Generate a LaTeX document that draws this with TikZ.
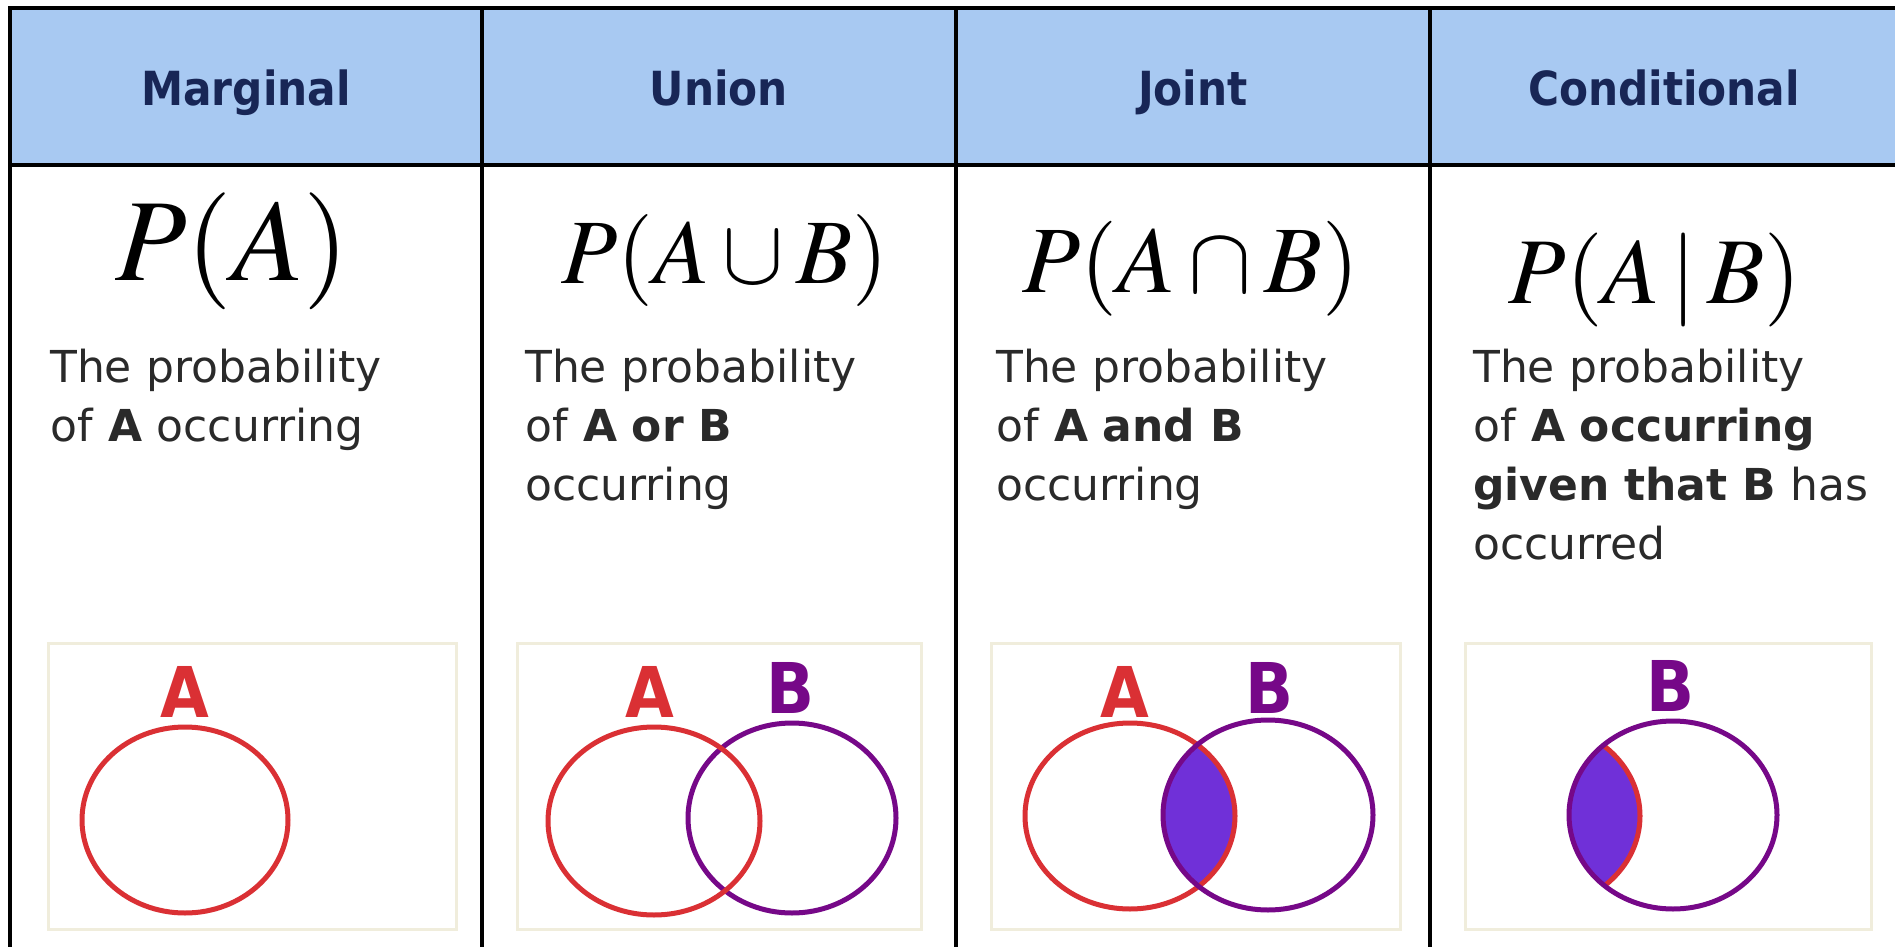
\RequirePackage{fix-cm}
\documentclass[tikz,border=0pt]{standalone}
\usepackage{mathptmx}
\usepackage{fontspec}
\setmainfont{DejaVu Sans}
\newfontfamily\condfont{DejaVu Sans Condensed}
\usetikzlibrary{positioning}

\definecolor{hdrblue}{RGB}{168,201,242}
\definecolor{hdrtext}{RGB}{24,38,86}
\definecolor{bodytext}{RGB}{42,42,42}
\definecolor{setred}{RGB}{218,48,52}
\definecolor{setpurple}{RGB}{118,8,136}
\definecolor{lensfill}{RGB}{112,48,216}
\definecolor{boxline}{RGB}{240,237,220}

\tikzset{
    tblline/.style={line width=4.5pt, black},
    hdr/.style={font=\condfont\bfseries\fontsize{47}{47}\selectfont, text=hdrtext, anchor=base, inner sep=0pt},
    formula/.style={anchor=base, inner sep=0pt},
    desc/.style={font=\fontsize{44}{59}\selectfont, text=bodytext, anchor=base west,
        text width=430pt, align=left, inner sep=0pt},
    vennbox/.style={draw=boxline, line width=3pt},
    setA/.style={draw=setred, line width=5pt},
    setB/.style={draw=setpurple, line width=5pt},
    setlabel/.style={font=\condfont\bfseries\fontsize{70}{70}\selectfont, anchor=base, inner sep=0pt},
}

\begin{document}
\begin{tikzpicture}[x=1pt, y=-1pt]
    \useasboundingbox (0,0) rectangle (1895,947);
    \fill[white] (0,0) rectangle (1895,947);

    % header band and table lines
    \fill[hdrblue] (10,8) rectangle (1895,165);
    \draw[tblline] (1895,8) -- (10,8) -- (10,947);
    \draw[tblline] (10,165) -- (1895,165);
    \foreach \x in {482,956,1430} {
        \draw[tblline] (\x,8) -- (\x,947);
    }

    % header titles
    \node[hdr] (hMarg)  at (246,106)  {Marginal};
    \node[hdr] (hUnion) at (719,106)  {Union};
    \node[hdr] (hJoint) at (1193,106) {Joint};
    \node[hdr] (hCond)  at (1664,106) {Conditional};

    % formulas
    \node[formula, font=\fontsize{117}{117}\selectfont] (fMarg)  at (232,280)  {$P(A)$};
    \node[formula, font=\fontsize{92}{92}\selectfont]   (fUnion) at (725,283)  {$P(A\cup B)$};
    \node[formula, font=\fontsize{95}{95}\selectfont]   (fJoint) at (1191,292) {$P(A\cap B)$};
    \node[formula, font=\fontsize{94}{94}\selectfont]   (fCond)  at (1655,303) {$P(A\,|\,B)$};

    % descriptions
    \node[desc] (tMarg)  at (50,382)   {The probability\\ of \textbf{A} occurring};
    \node[desc] (tUnion) at (525,382)  {The probability\\ of \textbf{A or B}\\ occurring};
    \node[desc] (tJoint) at (996,382)  {The probability\\ of \textbf{A and B}\\ occurring};
    \node[desc] (tCond)  at (1473,382) {The probability\\ of \textbf{A occurring}\\ \textbf{given that B} has\\ occurred};

    % venn boxes
    \draw[vennbox] (48,643) rectangle (456,929);
    \draw[vennbox] (517,643) rectangle (921,929);
    \draw[vennbox] (991,643) rectangle (1400,929);
    \draw[vennbox] (1465,643) rectangle (1871,929);

    % marginal
    \node[setlabel, text=setred] (lMargA) at (185,717) {A};
    \draw[setA] (185,820) ellipse [x radius=103, y radius=93];

    % union
    \node[setlabel, text=setred]    (lUnionA) at (650,717) {A};
    \node[setlabel, text=setpurple] (lUnionB) at (790,713) {B};
    \draw[setB] (792,818) ellipse [x radius=104, y radius=95];
    \draw[setA] (654,821) ellipse [x radius=106, y radius=94];

    % joint
    \node[setlabel, text=setred]    (lJointA) at (1125,717) {A};
    \node[setlabel, text=setpurple] (lJointB) at (1269,713) {B};
    \begin{scope}
        \clip (1130,816) ellipse [x radius=105, y radius=93];
        \fill[lensfill] (1268,815) ellipse [x radius=105, y radius=95];
    \end{scope}
    \draw[setA] (1130,816) ellipse [x radius=105, y radius=93];
    \draw[setB] (1268,815) ellipse [x radius=105, y radius=95];

    % conditional
    \node[setlabel, text=setpurple] (lCondB) at (1670,711) {B};
    \begin{scope}
        \clip (1673,815) ellipse [x radius=104, y radius=94];
        \fill[lensfill] (1535,816) ellipse [x radius=105, y radius=93];
        \draw[setA] (1535,816) ellipse [x radius=105, y radius=93];
    \end{scope}
    \draw[setB] (1673,815) ellipse [x radius=104, y radius=94];
\end{tikzpicture}
\end{document}
